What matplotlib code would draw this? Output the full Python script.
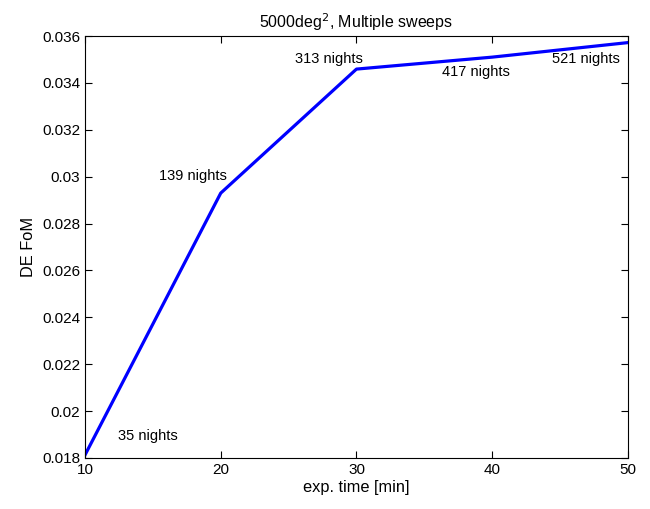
import matplotlib
matplotlib.use("Agg")
import matplotlib.pyplot as plt

exp_time = [10, 20, 30, 40, 50]
de_fom = [0.01813, 0.0293, 0.03459, 0.03510, 0.03572]
labels = ["35 nights", "139 nights", "313 nights", "417 nights", "521 nights"]
label_x = [12.4, 15.45, 25.5, 36.3, 44.4]
label_y = [0.01894, 0.03003, 0.03502, 0.03446, 0.03502]
xticks = [10, 20, 30, 40, 50]
yticks = [0.018, 0.02, 0.022, 0.024, 0.026, 0.028, 0.03, 0.032, 0.034, 0.036]
ytick_labels = ["0.018", "0.02", "0.022", "0.024", "0.026", "0.028", "0.03", "0.032", "0.034", "0.036"]

plt.rcParams['font.family'] = ['Liberation Sans', 'DejaVu Sans']

fig = plt.figure(figsize=(6.5, 5.09), dpi=100)
ax = fig.add_axes([0.1308, 0.1002, 0.8352, 0.8290])
ax.plot(exp_time, de_fom, color=(0, 0, 1), lw=2.3)
for t, x, y in zip(labels, label_x, label_y):
    ax.text(x, y, t, fontsize=10.5, ha='left', va='center')
ax.set_xlim(10, 50)
ax.set_ylim(0.018, 0.036)
ax.set_xticks(xticks)
ax.set_yticks(yticks)
ax.set_yticklabels(ytick_labels)
ax.tick_params(direction='in', top=True, right=True, labelsize=11, length=5, width=0.8)
for s in ax.spines.values():
    s.set_linewidth(0.8)
ax.set_xlabel("exp. time [min]", fontsize=11.8, labelpad=2)
ax.set_ylabel("DE FoM", fontsize=11.8, labelpad=4)
ax.set_title(r"5000deg$^2$, Multiple sweeps", fontsize=11.5, pad=6)
fig.savefig("out.png", dpi=100)
